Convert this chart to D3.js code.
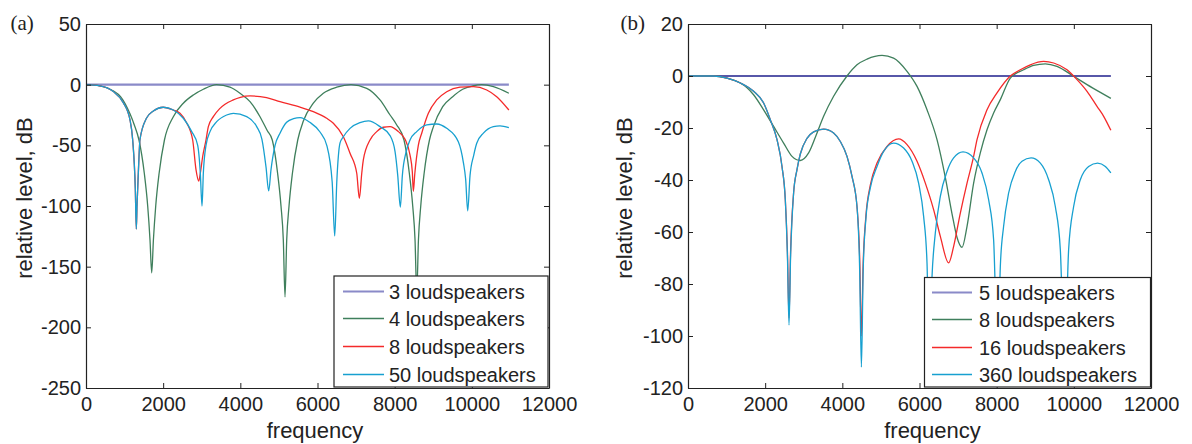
<!DOCTYPE html>
<html>
<head>
<meta charset="utf-8">
<script src="https://cdn.jsdelivr.net/npm/d3@7"></script>
<style>
  html, body { margin: 0; padding: 0; background: #fff; }
  svg { display: block; }
</style>
</head>
<body>
<script>
// shared axis ticks
const freqTicks = [0, 2000, 4000, 6000, 8000, 10000, 12000];
const levelTicksA = [50, 0, -50, -100, -150, -200, -250];
const levelTicksB = [20, 0, -20, -40, -60, -80, -100, -120];

const namesA = ['3 loudspeakers', '4 loudspeakers', '8 loudspeakers', '50 loudspeakers'];
const namesB = ['5 loudspeakers', '8 loudspeakers', '16 loudspeakers', '360 loudspeakers'];

// panel (a): [frequency, relative level dB]
const a3 = [[0, 0], [10960, 0]];
const a4 = [[0,0],[360,-1],[700,-5],[900,-10],[1140,-24],[1250,-33],[1373,-45.6],[1511,-73],[1599,-100],[1659,-128],[1703,-155],[1747,-128],[1807,-100],[1895,-73],[2033,-45.6],[2263,-26.4],[2522,-15.3],[2782,-8.5],[3041,-3.8],[3387,0],[3732,-2.1],[3991,-7.1],[4251,-14],[4510,-26.4],[4700,-38],[4828,-45.6],[4966,-73],[5054,-100],[5114,-128],[5158,-175],[5202,-128],[5262,-100],[5350,-73],[5488,-45.6],[5633,-30],[5892,-15.3],[6151,-7.1],[6498,-2.1],[6869,0],[7276,-3],[7620,-12.6],[7880,-25],[8050,-33],[8242,-45.6],[8380,-73],[8468,-100],[8528,-128],[8572,-172],[8616,-128],[8676,-100],[8764,-73],[8902,-45.6],[9000,-35],[9245,-18.1],[9504,-9.9],[9763,-3.8],[10022,-1.1],[10256,0],[10559,-1.6],[10960,-7.1]];
const a8 = [[0,0],[360,-1],[700,-5.5],[970,-15],[1140,-29],[1210,-45.6],[1278,-86],[1304,-119],[1322,-100],[1356,-73],[1400,-45],[1570,-27.5],[1745,-21.7],[2000,-18.6],[2263,-20.9],[2436,-23.6],[2600,-31],[2765,-45.6],[2851,-70],[2921,-79.4],[2963,-73],[3025,-59],[3110,-45.6],[3171,-34.6],[3300,-26.4],[3473,-19.5],[3818,-12.6],[4000,-10.5],[4251,-9.3],[4680,-10.7],[5028,-14],[5547,-18.5],[5892,-22.3],[6238,-27.7],[6411,-31.8],[6670,-42.9],[6843,-56.5],[7017,-73],[7085,-93.6],[7147,-73],[7188,-62],[7361,-45.6],[7535,-38.7],[7706,-35.1],[7880,-34.6],[8095,-38.7],[8269,-45],[8398,-58],[8458,-72],[8484,-88],[8520,-74],[8613,-50],[8701,-40],[8873,-23.6],[9090,-12.6],[9349,-5.8],[9694,-2.1],[10039,-1.6],[10386,-4.4],[10645,-9.9],[10960,-20.9]];
const a50 = [[0,0],[360,-1],[700,-5.5],[970,-15],[1140,-29],[1210,-45.6],[1278,-86],[1304,-119],[1322,-100],[1356,-73],[1400,-45],[1570,-27.5],[1745,-21.7],[2000,-18.6],[2263,-20.9],[2522,-27.7],[2740,-38.7],[2895,-50],[2963,-73],[3007,-100],[3041,-73],[3110,-50],[3214,-38.7],[3387,-30.5],[3646,-25],[3818,-23.6],[4165,-26.4],[4424,-34.6],[4560,-45],[4666,-68],[4735,-87.6],[4795,-70],[4900,-50],[5028,-40],[5200,-31],[5380,-28],[5547,-27.2],[5800,-31],[6065,-39],[6240,-50],[6380,-80],[6446,-124.7],[6500,-80],[6584,-48],[6670,-42.9],[6843,-36],[7102,-31.3],[7318,-29.9],[7620,-34.6],[7880,-42],[8009,-55],[8080,-75],[8147,-101],[8199,-75],[8300,-55],[8398,-45.6],[8571,-38.7],[8830,-33.2],[9090,-32.4],[9349,-36],[9650,-47],[9780,-64],[9840,-78],[9893,-104],[9953,-75],[10050,-58],[10127,-48.3],[10300,-40],[10559,-34.6],[10731,-34],[10960,-35.4]];

// panel (b)
const b5 = [[0, 0], [10960, 0]];
const b8 = [[0,0],[663,0],[1011,-0.8],[1356,-2.7],[1530,-4.5],[1700,-7.2],[1960,-13],[2219,-19.4],[2478,-25.8],[2696,-30.9],[2911,-32.5],[3126,-29.6],[3344,-21.9],[3515,-15.5],[3774,-7.8],[4121,0],[4380,4.3],[4640,6.5],[5029,7.9],[5329,6.9],[5677,1.8],[5936,-4],[6195,-13],[6454,-24.5],[6669,-39],[6843,-53],[6971,-62],[7102,-65.9],[7232,-57.8],[7403,-41.2],[7576,-29.6],[7750,-20.7],[7921,-14.2],[8095,-9.1],[8354,-0.8],[8699,2.4],[8958,4.1],[9261,4.7],[9564,3.7],[9994,-0.1],[10342,-3.3],[10687,-6.3],[10960,-8.6]];
const b16 = [[0,0],[663,0],[1011,-0.8],[1356,-2.7],[1700,-5.9],[1960,-10.4],[2133,-16.8],[2307,-24.5],[2436,-34.8],[2522,-47.6],[2578,-68],[2618,-93],[2658,-68],[2737,-45],[2825,-36],[2911,-30],[3084,-24],[3256,-21.5],[3515,-20.4],[3774,-21.9],[3948,-25.2],[4121,-30.9],[4251,-38.6],[4380,-50.2],[4450,-70],[4494,-100],[4540,-72],[4610,-54],[4725,-42],[4899,-33.5],[5158,-27.1],[5459,-24.2],[5677,-26.4],[5936,-32.8],[6151,-41.2],[6366,-51.4],[6540,-61.7],[6755,-71.9],[6885,-65.5],[7058,-52.7],[7232,-41.2],[7403,-30.9],[7491,-24.5],[7750,-13],[8009,-6.5],[8354,0],[8613,2.4],[8872,4.3],[9218,5.6],[9477,5],[9824,2.4],[10083,-1.4],[10342,-5.9],[10601,-11.7],[10773,-15.5],[10960,-20.9]];
const b360 = [[0,0],[663,0],[1011,-0.8],[1356,-2.7],[1700,-5.9],[1960,-10.4],[2133,-16.8],[2307,-24.5],[2436,-34.8],[2522,-47.6],[2578,-70],[2618,-95.8],[2658,-70],[2737,-45],[2825,-36],[2911,-30],[3084,-24],[3256,-21.5],[3515,-20.4],[3774,-21.9],[3948,-25.2],[4121,-30.9],[4251,-38.6],[4380,-50.2],[4450,-75],[4494,-112],[4540,-75],[4610,-55],[4725,-43],[4899,-34.8],[5070,-29],[5329,-25.8],[5588,-27.7],[5806,-32.8],[5977,-41.2],[6107,-54],[6195,-72],[6254,-110],[6325,-77],[6410,-60.4],[6540,-46.3],[6713,-36.7],[6885,-31.5],[7128,-29.2],[7403,-31.5],[7620,-37.3],[7792,-47.6],[7921,-63],[8030,-110],[8095,-73.2],[8180,-57.8],[8310,-45],[8484,-36.7],[8657,-32.8],[8891,-31.5],[9132,-33.5],[9347,-39.9],[9520,-50.2],[9650,-66.8],[9759,-110],[9865,-66.8],[9995,-50.2],[10168,-39.9],[10384,-34.8],[10617,-33.5],[10817,-34.8],[10960,-37.3]];

const lavender = '#8a8ac8';
const navy = '#1f1f8c';
const green = '#3f7f5c';
const red = '#f42a2a';
const cyan = '#17a0d0';
const ink = '#222';
const sans = '"Liberation Sans", Arial, sans-serif';

const width = 1192, height = 444;

const svg = d3.select('body')
	.append('svg')
	.attr('width', width)
	.attr('height', height);

svg.append('rect')
	.attr('width', width)
	.attr('height', height)
	.attr('fill', '#fff');

const panels = [
	{
		tag: '(a)', tagX: 10.5,
		box: [86, 24, 549, 388],
		yDomain: [-250, 50], yTicks: levelTicksA,
		series: [a3, a4, a8, a50],
		colors: [lavender, green, red, cyan],
		widths: [2.2, 1.3, 1.3, 1.3],
		names: namesA,
		yLabelX: 32, xLabelX: 315,
		legend: { x: 334, y: 276, w: 214, h: 111, l0: 343, l1: 384, tx: 389, r0: 290.7 }
	},
	{
		tag: '(b)', tagX: 620.5,
		box: [688, 24, 1151, 388],
		yDomain: [-120, 20], yTicks: levelTicksB,
		series: [b5, b8, b16, b360],
		colors: [navy, green, red, cyan],
		widths: [1.4, 1.3, 1.3, 1.3],
		names: namesB,
		yLabelX: 632, xLabelX: 932.5,
		legend: { x: 924.5, y: 277.5, w: 226, h: 109.5, l0: 932, l1: 972, tx: 979, r0: 291.5 }
	}
];

panels.forEach(p => drawPanel(p));

function drawPanel (p) {
	const [x0, y0, x1, y1] = p.box;
	const x = d3.scaleLinear().domain([0, 12000]).range([x0, x1]);
	const y = d3.scaleLinear().domain(p.yDomain).range([y1, y0]);
	const g = svg.append('g');

	const line = d3.line()
		.x(d => x(d[0]))
		.y(d => y(d[1]))
		.curve(d3.curveMonotoneX);

	p.series.forEach((s, i) => {
		g.append('path')
			.datum(s)
			.attr('d', line)
			.attr('fill', 'none')
			.attr('stroke', p.colors[i])
			.attr('stroke-width', p.widths[i])
			.attr('stroke-linejoin', 'round');
	});

	// axes: ticks point inward on all four sides, plain hyphen minus
	const plain = d => String(d);
	const styleAxis = sel => {
		sel.attr('font-family', sans).attr('font-size', 20).style('color', ink);
		sel.select('.domain').attr('stroke-width', 1.2);
	};

	g.append('g')
		.attr('transform', `translate(0,${y1})`)
		.call(d3.axisBottom(x).tickValues(freqTicks).tickFormat(plain).tickSizeInner(-5).tickSizeOuter(0).tickPadding(9))
		.call(styleAxis);
	g.append('g')
		.attr('transform', `translate(0,${y0})`)
		.call(d3.axisTop(x).tickValues(freqTicks).tickSizeInner(-5).tickSizeOuter(0).tickFormat(() => ''))
		.call(styleAxis);
	g.append('g')
		.attr('transform', `translate(${x0},0)`)
		.call(d3.axisLeft(y).tickValues(p.yTicks).tickFormat(plain).tickSizeInner(-5).tickSizeOuter(0).tickPadding(5))
		.call(styleAxis);
	g.append('g')
		.attr('transform', `translate(${x1},0)`)
		.call(d3.axisRight(y).tickValues(p.yTicks).tickSizeInner(-5).tickSizeOuter(0).tickFormat(() => ''))
		.call(styleAxis);

	// axis titles
	g.append('text')
		.attr('x', p.xLabelX)
		.attr('y', 438)
		.attr('text-anchor', 'middle')
		.attr('font-family', sans)
		.attr('font-size', 22)
		.attr('fill', ink)
		.text('frequency');

	g.append('text')
		.attr('transform', `translate(${p.yLabelX},198) rotate(-90)`)
		.attr('text-anchor', 'middle')
		.attr('font-family', sans)
		.attr('font-size', 22)
		.attr('fill', ink)
		.text('relative level, dB');

	g.append('text')
		.attr('x', p.tagX)
		.attr('y', 29.5)
		.attr('font-family', '"Liberation Serif", "Times New Roman", serif')
		.attr('font-size', 21)
		.attr('fill', ink)
		.text(p.tag);

	// legend
	const L = p.legend;
	const lg = g.append('g');
	lg.append('rect')
		.attr('x', L.x)
		.attr('y', L.y)
		.attr('width', L.w)
		.attr('height', L.h)
		.attr('fill', '#fff')
		.attr('stroke', ink)
		.attr('stroke-width', 1.2);

	p.names.forEach((name, i) => {
		const ry = Math.round(L.r0 + i * 27.6) + 0.5;
		lg.append('line')
			.attr('x1', L.l0).attr('x2', L.l1)
			.attr('y1', ry).attr('y2', ry)
			.attr('stroke', i === 0 ? lavender : p.colors[i])
			.attr('stroke-width', i === 0 ? 2 : 1.3);
		lg.append('text')
			.attr('x', L.tx)
			.attr('y', ry + 7)
			.attr('font-family', sans)
			.attr('font-size', 20)
			.attr('fill', ink)
			.text(name);
	});
}
</script>
</body>
</html>
